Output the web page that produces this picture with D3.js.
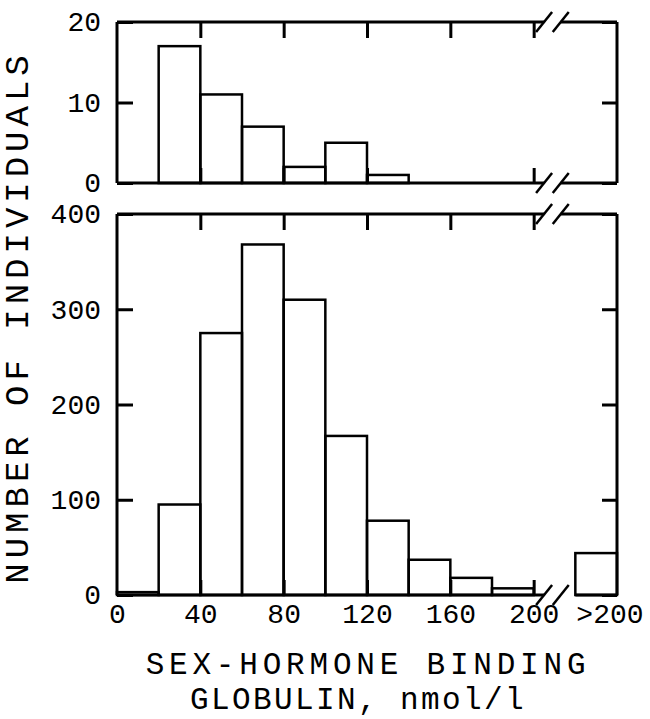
<!DOCTYPE html>
<html>
<head>
<meta charset="utf-8">
<script src="https://cdn.jsdelivr.net/npm/d3@7"></script>
<style>
  body { margin: 0; background: #fff; }
  text { font-family: "Liberation Mono", monospace; fill: #000; }
</style>
</head>
<body>
<div id="chart"></div>
<script>
// bins of 20 nmol/l, last one is ">200" drawn after the axis break
var binStart = [0, 20, 40, 60, 80, 100, 120, 140, 160, 180, 220];
var topCounts = [0, 17, 11, 7, 2, 5, 1, 0, 0, 0, 0];
var bottomCounts = [3, 95, 275, 368, 310, 167, 78, 37, 18, 7, 44];

var xTicks = [0, 40, 80, 120, 160, 200];
var topYTicks = [0, 10, 20];
var bottomYTicks = [0, 100, 200, 300, 400];
var breakAt = [205, 213];

var svg = d3.select("#chart")
  .append("svg")
  .attr("width", 650)
  .attr("height", 719);

var x = d3.scaleLinear().domain([0, 240]).range([117, 617]);
var yTop = d3.scaleLinear().domain([0, 20]).range([183, 22]);
var yBot = d3.scaleLinear().domain([0, 400]).range([595, 214]);

function drawPanel(y, counts, yTicks, bottomTicks, showXLabels) {
  var g = svg.append("g");
  var y0 = y.range()[0], y1 = y.range()[1];

  // bars
  g.selectAll(".bar")
    .data(counts.map(function(c, i) { return {x0: binStart[i], v: c}; })
      .filter(function(d) { return d.v > 0; }))
    .enter()
    .append("rect")
    .attr("x", function(d) { return x(d.x0); })
    .attr("y", function(d) { return y(d.v); })
    .attr("width", function(d) { return x(d.x0 + 20) - x(d.x0); })
    .attr("height", function(d) { return y0 - y(d.v); })
    .attr("fill", "none")
    .attr("stroke", "#000")
    .attr("stroke-width", 2.5);

  // frame with breaks
  var frame = [
    [x(0), y0, x(0), y1],
    [x(240), y0, x(240), y1],
    [x(0), y1, x(breakAt[0]), y1],
    [x(breakAt[1]), y1, x(240), y1],
    [x(0), y0, x(breakAt[0]), y0],
    [showXLabels ? x(220) : x(breakAt[1]), y0, x(240), y0]
  ];
  g.selectAll(".frame")
    .data(frame)
    .enter()
    .append("line")
    .attr("x1", function(d) { return d[0]; })
    .attr("y1", function(d) { return d[1]; })
    .attr("x2", function(d) { return d[2]; })
    .attr("y2", function(d) { return d[3]; })
    .attr("stroke", "#000")
    .attr("stroke-width", 3);

  // break marks
  [y0, y1].forEach(function(yy) {
    breakAt.forEach(function(b) {
      g.append("line")
        .attr("x1", x(b) - 8).attr("y1", yy + 10)
        .attr("x2", x(b) + 8).attr("y2", yy - 10)
        .attr("stroke", "#000")
        .attr("stroke-width", 2.5);
    });
  });

  // ticks
  g.append("g")
    .attr("transform", "translate(0," + y1 + ")")
    .call(d3.axisTop(x).tickValues([40, 80, 120, 160, 200]).tickSize(-16).tickFormat(""));
  g.append("g")
    .attr("transform", "translate(0," + y0 + ")")
    .call(d3.axisBottom(x).tickValues(bottomTicks).tickSize(-15).tickFormat(""));

  g.append("g")
    .attr("transform", "translate(" + x(0) + ",0)")
    .call(d3.axisLeft(y).tickValues(yTicks).tickSize(-16).tickPadding(16));
  g.append("g")
    .attr("transform", "translate(" + x(240) + ",0)")
    .call(d3.axisRight(y).tickValues(yTicks).tickSize(-15).tickFormat(""));

  if (showXLabels) {
    var xa = g.append("g")
      .attr("transform", "translate(0," + y0 + ")")
      .call(d3.axisBottom(x).tickValues(xTicks).tickSize(0).tickPadding(8));
    xa.append("text")
      .attr("x", x(220) + 1)
      .attr("y", 8)
      .attr("dy", "0.71em")
      .attr("text-anchor", "start")
      .text(">200");
  }

  g.selectAll(".domain").remove();
  g.selectAll(".tick line").attr("stroke", "#000").attr("stroke-width", 3);
  g.selectAll("text")
    .attr("font-family", "Liberation Mono")
    .attr("font-size", 28)
    .attr("fill", "#000");
}

drawPanel(yTop, topCounts, topYTicks, [40, 80, 120, 200], false);
drawPanel(yBot, bottomCounts, bottomYTicks, [40, 80, 120, 160, 200], true);

// axis titles
svg.append("text")
  .attr("transform", "translate(28,317) rotate(-90)")
  .attr("text-anchor", "middle")
  .attr("font-size", 34)
  .attr("letter-spacing", 5)
  .text("NUMBER OF INDIVIDUALS");

svg.append("text")
  .attr("x", 368)
  .attr("y", 674)
  .attr("text-anchor", "middle")
  .attr("font-size", 31)
  .attr("letter-spacing", 4.8)
  .text("SEX-HORMONE BINDING");

svg.append("text")
  .attr("x", 358)
  .attr("y", 709)
  .attr("text-anchor", "middle")
  .attr("font-size", 31)
  .attr("letter-spacing", 2.4)
  .text("GLOBULIN, nmol/l");
</script>
</body>
</html>
